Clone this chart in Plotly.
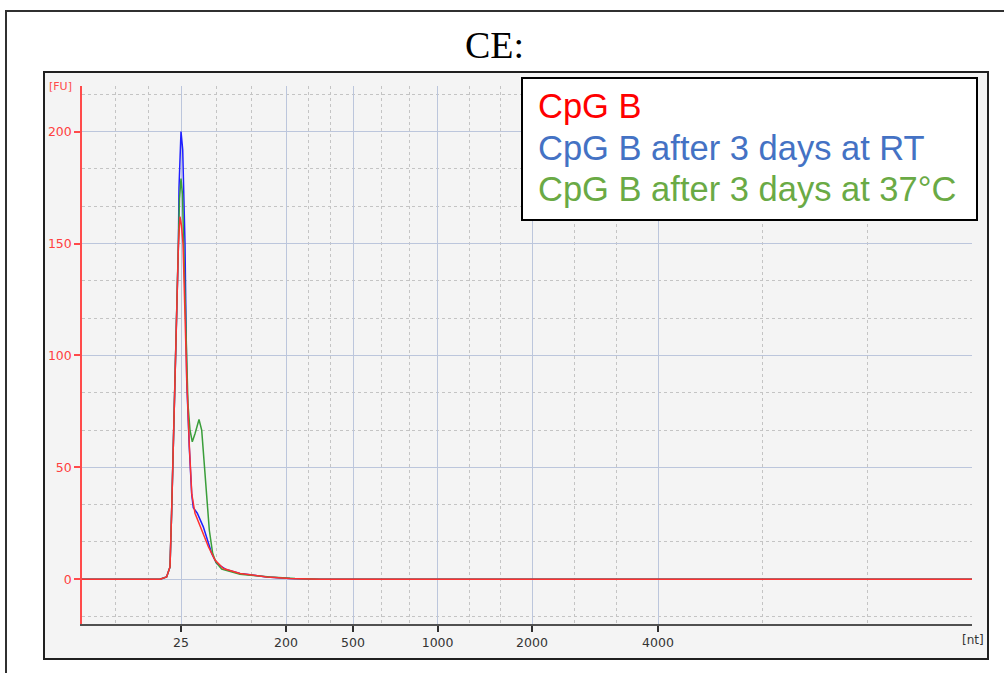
import plotly.graph_objects as go

# ---------------- data ----------------
# x = migration time [s]; ladder sizes mark positions on the time axis
ladder_nt = ["25", "200", "500", "1000", "2000", "4000"]
ladder_time = [24.95, 30.2, 33.55, 37.78, 42.5, 48.8]
time_start = 20.0
time_end = 64.5

red_t = [20.0, 21.9, 23.9, 24.23, 24.40, 24.48, 24.56, 24.65, 24.73, 24.82, 24.90, 24.975,
         25.05, 25.12, 25.24, 25.37, 25.44, 25.49, 25.65, 25.99, 26.32, 26.65, 27.07, 27.9,
         29.24, 30.4, 31.9, 40.0, 50.0, 64.5]
red_v = [0, 0, 0, 1, 5.5, 29.5, 59, 90, 126, 149, 162, 158,
         150, 125, 89, 59, 44, 38, 29.5, 22, 14.5, 8.6, 4.8, 2.6,
         1, 0.3, 0, 0, 0, 0]

blue_t = [20.0, 21.9, 23.9, 24.23, 24.40, 24.48, 24.56, 24.65, 24.73, 24.82, 24.85, 24.90,
          24.95, 25.035, 25.065, 25.115, 25.15, 25.185, 25.235, 25.365, 25.435, 25.485, 25.565,
          25.765, 26.065, 26.285, 26.485, 26.735, 27.235, 27.9, 29.24, 30.4, 31.9, 40.0, 50.0, 64.5]
blue_v = [0, 0, 0, 1, 5.5, 29.5, 59, 90, 126, 149, 175, 192,
          200, 192, 181, 166, 150, 125, 89, 59, 44, 38, 32,
          29.5, 23.4, 17.4, 11.5, 7, 4.2, 2.6, 1, 0.3, 0, 0, 0, 0]

green_t = [20.0, 21.9, 23.9, 24.23, 24.40, 24.48, 24.56, 24.65, 24.73, 24.82, 24.875, 24.95,
           25.025, 25.065, 25.15, 25.235, 25.3, 25.4, 25.515, 25.65, 25.85, 25.985, 26.1,
           26.235, 26.365, 26.535, 26.7, 26.985, 27.9, 29.4, 30.65, 31.9, 40.0, 50.0, 64.5]
green_v = [0, 0, 0, 1, 5.5, 29.5, 59, 90, 126, 149, 170, 179,
           172, 156, 126, 93, 78, 66.6, 61.4, 65, 71.4, 66.6, 51.7,
           36.8, 22, 11.5, 7.5, 4.5, 2.2, 1, 0.3, 0, 0, 0, 0]

series_names = ["CpG B", "CpG B after 3 days at RT", "CpG B after 3 days at 37°C"]
y_ticks = [0, 50, 100, 150, 200]

# ---------------- geometry ----------------
W, H = 1004, 673
L, R, T, B = 82, 972, 86, 624


def px(x):
    return (x - L) / (R - L)


def py(y):
    return (B - y) / (B - T)


# minor gridlines: thirds between major positions
bounds = [time_start] + ladder_time + [time_end]
x_minor = []
for a, b in zip(bounds[:-1], bounds[1:]):
    x_minor += [a + (b - a) / 3, a + 2 * (b - a) / 3]
x_minor.append(time_end)
y_minor = [k * 50 / 3 for k in range(-1, 14) if k % 3 != 0]

fig = go.Figure()
fig.add_trace(go.Scatter(x=blue_t, y=blue_v, mode="lines", name=series_names[1],
                         line=dict(color="#1f1fff", width=1.5)))
fig.add_trace(go.Scatter(x=green_t, y=green_v, mode="lines", name=series_names[2],
                         line=dict(color="#3a9e3a", width=1.5)))
fig.add_trace(go.Scatter(x=red_t, y=red_v, mode="lines", name=series_names[0],
                         line=dict(color="#ff3030", width=1.5)))

grid_major = "#bcc6dc"
grid_minor = "#c4c4c4"

fig.update_layout(
    width=W, height=H,
    margin=dict(l=L, r=W - R, t=T, b=H - B),
    paper_bgcolor="white",
    plot_bgcolor="rgba(0,0,0,0)",
    showlegend=False,
    font=dict(family="DejaVu Sans", size=12, color="#404040"),
    xaxis=dict(
        range=[time_start, time_end],
        tickmode="array", tickvals=ladder_time, ticktext=ladder_nt,
        showline=True, linecolor="#505050", linewidth=2,
        ticks="outside", ticklen=6, tickcolor="#303030", tickwidth=1.5,
        tickfont=dict(family="DejaVu Sans", size=12.5, color="#333333"),
        showgrid=True, gridcolor=grid_major, gridwidth=1,
        zeroline=False,
        minor=dict(tickmode="array", tickvals=x_minor, showgrid=True,
                   gridcolor=grid_minor, griddash="dot", gridwidth=1, ticks=""),
    ),
    yaxis=dict(
        range=[-20, 220.4],
        tickmode="array", tickvals=y_ticks,
        showline=True, linecolor="#ff4a4a", linewidth=1.5,
        ticks="outside", ticklen=6, tickcolor="#ff4a4a", tickwidth=1.5,
        tickfont=dict(family="DejaVu Sans", size=12.5, color="#ff4040"),
        showgrid=True, gridcolor=grid_major, gridwidth=1,
        zeroline=False,
        minor=dict(tickmode="array", tickvals=y_minor, showgrid=True,
                   gridcolor=grid_minor, griddash="dot", gridwidth=1, ticks=""),
    ),
)

shapes = [
    # inner panel
    dict(type="rect", xref="paper", yref="paper", layer="below",
         x0=px(44), x1=px(988), y0=py(659), y1=py(72),
         fillcolor="#f4f4f4", line=dict(color="#202020", width=2)),
    # outer frame: top edge and left edge
    dict(type="line", xref="paper", yref="paper", layer="above",
         x0=px(5), x1=px(1004), y0=py(11), y1=py(11),
         line=dict(color="#303030", width=2)),
    dict(type="line", xref="paper", yref="paper", layer="above",
         x0=px(6), x1=px(6), y0=py(10), y1=py(673),
         line=dict(color="#303030", width=2)),
    # legend box
    dict(type="rect", xref="paper", yref="paper", layer="above",
         x0=px(522), x1=px(977), y0=py(220), y1=py(78),
         fillcolor="white", line=dict(color="#000000", width=2)),
]
fig.update_layout(shapes=shapes)

legend_colors = ["#ff0000", "#4472c4", "#6aaa45"]
legend_y = [106, 148, 189]
annotations = [
    dict(text="CE:", x=px(494), y=py(45), xref="paper", yref="paper",
         showarrow=False, xanchor="center", yanchor="middle",
         font=dict(family="Liberation Serif", size=38, color="#000000")),
    dict(text="[FU]", x=px(60), y=py(87), xref="paper", yref="paper",
         showarrow=False, xanchor="center", yanchor="middle",
         font=dict(family="DejaVu Sans", size=11, color="#ff4a4a")),
    dict(text="[nt]", x=px(973), y=py(640), xref="paper", yref="paper",
         showarrow=False, xanchor="center", yanchor="middle",
         font=dict(family="DejaVu Sans", size=12, color="#333333")),
]
for name, col, yy in zip(series_names, legend_colors, legend_y):
    annotations.append(dict(text=name, x=px(536), y=py(yy), xref="paper", yref="paper",
                            showarrow=False, xanchor="left", yanchor="middle",
                            font=dict(family="Liberation Sans", size=34.5, color=col)))
fig.update_layout(annotations=annotations)

fig.write_html("out.html")
